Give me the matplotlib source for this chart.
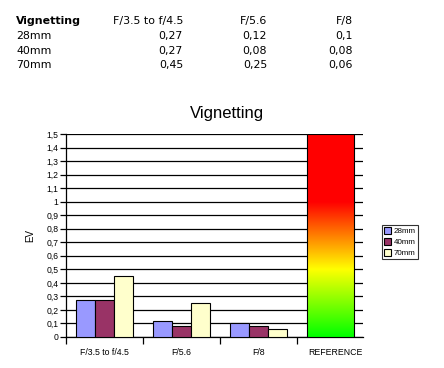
"""
Vignetting chart: small data table on top, grouped bars plus a
green-yellow-red reference bar below.
"""

import matplotlib
matplotlib.use("Agg")
import matplotlib.pyplot as plt
import matplotlib.patches as mpatches
import numpy as np
from matplotlib.colors import LinearSegmentedColormap

plt.rcParams["font.family"] = ["Liberation Sans", "DejaVu Sans"]

# ── Data ──────────────────────────────────────────────────────────────────────
APERTURES = ["F/3.5 to f/4.5", "F/5.6", "F/8"]
FOCALS = ["28mm", "40mm", "70mm"]
EV_28 = [0.27, 0.12, 0.10]
EV_40 = [0.27, 0.08, 0.08]
EV_70 = [0.45, 0.25, 0.06]
REFERENCE_LABEL = "REFERENCE"
REFERENCE_MAX = 1.5

# ── Style ─────────────────────────────────────────────────────────────────────
W, H, DPI = 444, 368, 100
COLORS = ["#9999FF", "#993366", "#FFFFCC"]
GRADIENT = LinearSegmentedColormap.from_list(
    "ref", [(0.0, "#00FF00"), (1 / 3, "#FFFF00"), (2 / 3, "#FF0000"), (1.0, "#FF0000")]
)
TABLE_FONT = dict(family="DejaVu Sans", fontsize=7.9, va="center")


def px(x, y):
    """Pixel position (from top-left) to figure fraction."""
    return x / W, 1 - y / H


def fmt_num(v):
    return str(v).replace(".", ",")


def fmt_tick(v, _pos=None):
    s = f"{v:.1f}".rstrip("0").rstrip(".")
    return s.replace(".", ",")


fig = plt.figure(figsize=(W / DPI, H / DPI), dpi=DPI)

# ── Table on top ──────────────────────────────────────────────────────────────
col_right = [183, 267, 353]
row_y = [21, 36, 51, 65]
fig.text(*px(16, row_y[0]), "Vignetting", fontweight="bold", ha="left", **TABLE_FONT)
for c, name in enumerate(APERTURES):
    fig.text(*px(col_right[c], row_y[0]), name, ha="right", **TABLE_FONT)
for r, (focal, vals) in enumerate(zip(FOCALS, [EV_28, EV_40, EV_70])):
    fig.text(*px(16, row_y[r + 1]), focal, ha="left", **TABLE_FONT)
    for c, v in enumerate(vals):
        fig.text(*px(col_right[c], row_y[r + 1]), fmt_num(v), ha="right", **TABLE_FONT)

# ── Chart ─────────────────────────────────────────────────────────────────────
left, right, top, bottom = 66, 363, 134, 337
ax = fig.add_axes([left / W, 1 - bottom / H, (right - left) / W, (bottom - top) / H])

categories = APERTURES + [REFERENCE_LABEL]
x = np.arange(len(APERTURES))
bw = 0.25
for j, (vals, color, label) in enumerate(zip([EV_28, EV_40, EV_70], COLORS, FOCALS)):
    ax.bar(x + (j - 1) * bw, vals, width=bw, color=color, edgecolor="black",
           linewidth=0.8, label=label, zorder=3)

# reference gradient bar in the last category
ref_i = len(APERTURES)
ref_w = 0.61
ref_c = ref_i - 0.065
grad = np.linspace(0, 1, 256).reshape(-1, 1)
ax.imshow(grad, cmap=GRADIENT, origin="lower", aspect="auto",
          extent=[ref_c - ref_w / 2, ref_c + ref_w / 2, 0, REFERENCE_MAX], zorder=3)
ax.add_patch(mpatches.Rectangle((ref_c - ref_w / 2, 0), ref_w, REFERENCE_MAX,
                                fill=False, edgecolor="black", linewidth=0.8, zorder=4))

ax.set_xlim(-0.5, -0.5 + (right - left) / 77)
ax.set_ylim(0, 1.5)

yt = np.round(np.arange(0, 1.51, 0.1), 1)
ax.set_yticks(yt)
ax.yaxis.set_major_formatter(plt.FuncFormatter(fmt_tick))
ax.yaxis.grid(True, color="black", linewidth=0.9, zorder=0)
ax.set_axisbelow(True)
ax.tick_params(axis="y", direction="out", length=4, width=0.9, pad=1.5,
               labelsize=6.2, colors="black")

ax.set_xticks(np.arange(len(categories)))
ax.set_xticklabels(categories)
ax.set_xticks(np.arange(len(categories)) - 0.5, minor=True)
ax.tick_params(axis="x", which="major", length=0, pad=8, labelsize=6.3)
ax.tick_params(axis="x", which="minor", direction="out", length=5, width=0.9)

for side in ["top", "right"]:
    ax.spines[side].set_visible(False)
for side in ["left", "bottom"]:
    ax.spines[side].set_linewidth(0.9)

ax.set_ylabel("EV", fontsize=7, labelpad=8)
fig.text(*px(227, 114), "Vignetting", fontsize=12, ha="center", va="center")

handles = [mpatches.Patch(facecolor=c, edgecolor="black", linewidth=0.8, label=l)
           for c, l in zip(COLORS, FOCALS)]
fig.legend(handles=handles, loc="center", bbox_to_anchor=px(400, 242),
           fontsize=5.8, frameon=True, fancybox=False, edgecolor="black",
           handlelength=0.9, handleheight=0.9, handletextpad=0.3,
           labelspacing=0.35, borderpad=0.3, borderaxespad=0)
fig.legends[0].get_frame().set_linewidth(0.8)

fig.savefig("out.png", dpi=DPI)
